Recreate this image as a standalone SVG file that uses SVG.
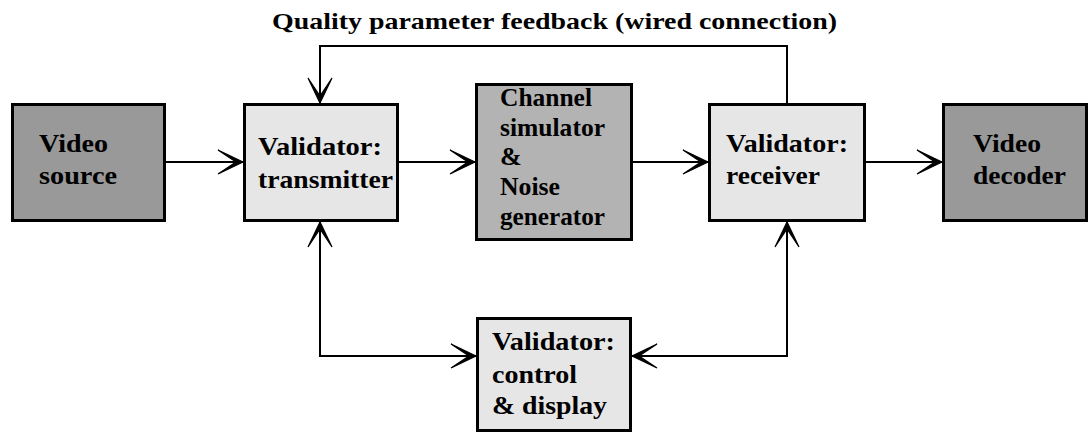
<svg xmlns="http://www.w3.org/2000/svg" width="1092" height="434" viewBox="0 0 1092 434">
  <style>
    .box { stroke: #000; stroke-width: 3; }
    .dark { fill: #999999; }
    .mid { fill: #b3b3b3; }
    .light { fill: #e6e6e6; }
    .wire { fill: none; stroke: #000; stroke-width: 2; }
    .arrow { marker-end: url(#head); }
    .both { marker-start: url(#head); marker-end: url(#head); }
  </style>
  <defs>
    <marker id="head" viewBox="-26 -13 28 26" refX="0" refY="0" markerWidth="28" markerHeight="26" markerUnits="userSpaceOnUse" orient="auto-start-reverse">
      <path d="M0,0 L-25,-12 L-7,0 L-25,12 Z" fill="#000" stroke="#000" stroke-width="1.2" stroke-linejoin="miter"/>
    </marker>
  </defs>

  <rect width="1092" height="434" fill="#fff"/>

  <text x="272" y="29" textLength="565" lengthAdjust="spacingAndGlyphs" font-family="Liberation Serif, serif" font-weight="bold" font-size="24">Quality parameter feedback (wired connection)</text>

  <g id="connectors">
    <path class="wire arrow" d="M166,162 L243,162"/>
    <path class="wire arrow" d="M399,162 L475,162"/>
    <path class="wire arrow" d="M633,162 L708,162"/>
    <path class="wire arrow" d="M866,162 L942,162"/>
    <path class="wire arrow" d="M787,103 L787,46 L320,46 L320,103"/>
    <path class="wire both" d="M320,222 L320,356 L476,356"/>
    <path class="wire both" d="M787,222 L787,356 L632,356"/>
  </g>

  <g font-family="Liberation Serif, serif" font-weight="bold" font-size="26" lengthAdjust="spacingAndGlyphs">
    <g id="video-source">
      <rect class="box dark" x="12.5" y="104.5" width="152" height="116"/>
      <text x="39" y="152" textLength="69" lengthAdjust="spacingAndGlyphs">Video</text>
      <text x="39" y="184" textLength="78" lengthAdjust="spacingAndGlyphs">source</text>
    </g>

    <g id="validator-transmitter">
      <rect class="box light" x="244.5" y="104.5" width="153" height="116"/>
      <text x="258" y="155" textLength="124" lengthAdjust="spacingAndGlyphs">Validator:</text>
      <text x="258" y="188" textLength="135" lengthAdjust="spacingAndGlyphs">transmitter</text>
    </g>

    <g id="channel-simulator">
      <rect class="box mid" x="476.5" y="84.5" width="155" height="155"/>
      <text x="500" y="106" textLength="92" lengthAdjust="spacingAndGlyphs">Channel</text>
      <text x="500" y="136" textLength="105" lengthAdjust="spacingAndGlyphs">simulator</text>
      <text x="500" y="165">&amp;</text>
      <text x="500" y="195" textLength="60" lengthAdjust="spacingAndGlyphs">Noise</text>
      <text x="500" y="225" textLength="105" lengthAdjust="spacingAndGlyphs">generator</text>
    </g>

    <g id="validator-receiver">
      <rect class="box light" x="709.5" y="104.5" width="155" height="116"/>
      <text x="726" y="152" textLength="122" lengthAdjust="spacingAndGlyphs">Validator:</text>
      <text x="726" y="184" textLength="94" lengthAdjust="spacingAndGlyphs">receiver</text>
    </g>

    <g id="video-decoder">
      <rect class="box dark" x="943.5" y="104.5" width="143" height="116"/>
      <text x="973" y="152" textLength="68" lengthAdjust="spacingAndGlyphs">Video</text>
      <text x="973" y="184" textLength="93" lengthAdjust="spacingAndGlyphs">decoder</text>
    </g>

    <g id="validator-control">
      <rect class="box light" x="477.5" y="318.5" width="153" height="112"/>
      <text x="492" y="350" textLength="123" lengthAdjust="spacingAndGlyphs">Validator:</text>
      <text x="492" y="383" textLength="85" lengthAdjust="spacingAndGlyphs">control</text>
      <text x="492" y="414" textLength="115" lengthAdjust="spacingAndGlyphs">&amp; display</text>
    </g>
  </g>
</svg>
